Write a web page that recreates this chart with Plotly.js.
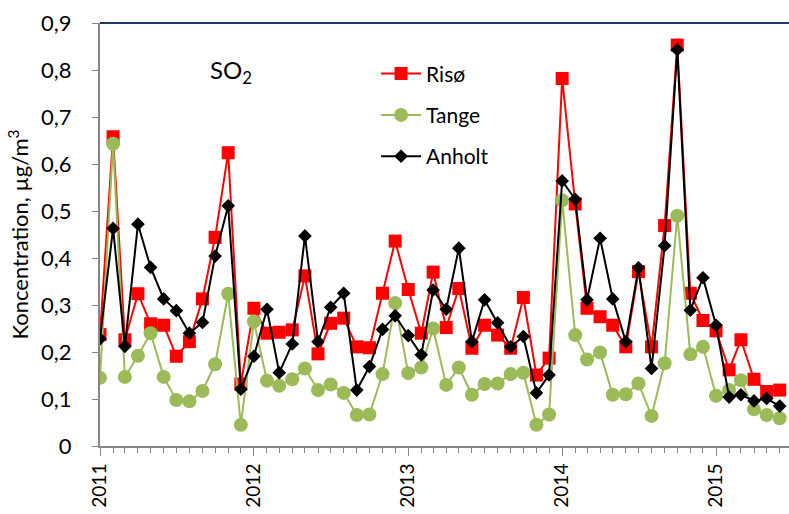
<!DOCTYPE html>
<html>
<head>
<meta charset="utf-8">
<script src="https://cdn.plot.ly/plotly-3.0.1.min.js"></script>
<style>html,body{margin:0;padding:0;background:#fff}#chart{width:789px;height:514px}</style>
</head>
<body>
<div id="chart"></div>
<script>
const months = [
 '2011-01-01','2011-02-01','2011-03-01','2011-04-01','2011-05-01','2011-06-01','2011-07-01','2011-08-01','2011-09-01','2011-10-01','2011-11-01','2011-12-01',
 '2012-01-01','2012-02-01','2012-03-01','2012-04-01','2012-05-01','2012-06-01','2012-07-01','2012-08-01','2012-09-01','2012-10-01','2012-11-01','2012-12-01',
 '2013-01-01','2013-02-01','2013-03-01','2013-04-01','2013-05-01','2013-06-01','2013-07-01','2013-08-01','2013-09-01','2013-10-01','2013-11-01','2013-12-01',
 '2014-01-01','2014-02-01','2014-03-01','2014-04-01','2014-05-01','2014-06-01','2014-07-01','2014-08-01','2014-09-01','2014-10-01','2014-11-01','2014-12-01',
 '2015-01-01','2015-02-01','2015-03-01','2015-04-01','2015-05-01','2015-06-01'];

const riso = [0.237,0.658,0.226,0.324,0.260,0.257,0.191,0.222,0.313,0.444,0.624,0.132,
 0.293,0.240,0.242,0.247,0.362,0.196,0.261,0.272,0.211,0.209,0.325,0.436,
 0.333,0.240,0.370,0.252,0.335,0.208,0.257,0.236,0.208,0.316,0.151,0.187,
 0.782,0.515,0.293,0.275,0.257,0.211,0.371,0.211,0.469,0.853,0.325,0.267,
 0.245,0.162,0.226,0.142,0.116,0.119];

const tange = [0.145,0.643,0.147,0.192,0.240,0.147,0.098,0.095,0.117,0.174,0.324,0.045,
 0.265,0.139,0.128,0.142,0.165,0.119,0.131,0.113,0.066,0.067,0.153,0.304,
 0.155,0.167,0.250,0.130,0.167,0.109,0.132,0.133,0.153,0.156,0.045,0.067,
 0.523,0.236,0.184,0.199,0.109,0.110,0.133,0.064,0.176,0.490,0.195,0.211,
 0.107,0.119,0.140,0.078,0.066,0.059];

const anholt = [0.228,0.463,0.212,0.472,0.380,0.313,0.288,0.240,0.263,0.404,0.511,0.121,
 0.191,0.291,0.156,0.217,0.447,0.222,0.295,0.325,0.119,0.169,0.248,0.277,
 0.235,0.194,0.332,0.291,0.421,0.222,0.311,0.262,0.211,0.233,0.113,0.151,
 0.564,0.525,0.311,0.442,0.313,0.222,0.379,0.165,0.426,0.843,0.289,0.358,
 0.257,0.104,0.109,0.096,0.101,0.085];

const yTickVals = [0,0.1,0.2,0.3,0.4,0.5,0.6,0.7,0.8,0.9];
const yTickText = ['0','0,1','0,2','0,3','0,4','0,5','0,6','0,7','0,8','0,9'];
const xTickVals = ['2011-01-01','2012-01-01','2013-01-01','2014-01-01','2015-01-01'];
const xTickText = ['2011','2012','2013','2014','2015'];

const FONT = 'Lato, "Open Sans", sans-serif';

const traces = [
 {x: months, y: riso, name: 'Risø', type: 'scatter', mode: 'lines+markers', legendgroup: 'a',
  line: {color: '#FF0000', width: 2}, marker: {symbol: 'square', size: 13, color: '#FF0000'}},
 {x: months, y: tange, name: 'Tange', type: 'scatter', mode: 'lines+markers', legendgroup: 'b',
  line: {color: '#9BBB59', width: 2}, marker: {symbol: 'circle', size: 14, color: '#9BBB59'}},
 {x: months, y: anholt, name: 'Anholt', type: 'scatter', mode: 'lines+markers', legendgroup: 'c',
  line: {color: '#000000', width: 2}, marker: {symbol: 'diamond', size: 10.5, color: '#000000'}}
];

const layout = {
 width: 789, height: 514,
 margin: {l: 100, r: 0, t: 23, b: 68},
 paper_bgcolor: '#fff', plot_bgcolor: '#fff',
 font: {family: FONT, size: 17, color: '#000'},
 showlegend: true,
 legend: {x: 0.4007, y: 0.928, xanchor: 'left', yanchor: 'top', traceorder: 'grouped',
  tracegroupgap: 11, font: {family: FONT, size: 21, color: '#000'}, bgcolor: 'rgba(0,0,0,0)',
  itemwidth: 40},
 xaxis: {type: 'date', range: ['2011-01-01', '2015-06-23'],
  tickvals: xTickVals, ticktext: xTickText,
  tickangle: -90, ticks: 'outside', ticklen: 8, tickwidth: 1, tickcolor: '#868686',
  showline: true, linecolor: '#868686', linewidth: 2, showgrid: false, zeroline: false,
  tickfont: {family: FONT, size: 19},
  minor: {dtick: 'M1', tick0: '2011-01-01', ticks: 'outside', ticklen: 5, tickcolor: '#868686', showgrid: false}},
 yaxis: {range: [0, 0.9], tickvals: yTickVals, ticktext: yTickText,
  ticks: 'outside', ticklen: 6, tickwidth: 1, tickcolor: '#868686', ticklabelstandoff: 16,
  showline: true, linecolor: '#868686', linewidth: 2, showgrid: false, zeroline: false,
  tickfont: {family: FONT, size: 22},
  title: {text: 'Koncentration, µg/m<sup>3</sup>', font: {family: FONT, size: 22}, standoff: 6}},
 shapes: [{type: 'line', xref: 'paper', yref: 'paper', x0: 0, x1: 1, y0: 1, y1: 1,
  line: {color: '#1F3864', width: 2}}],
 annotations: [{xref: 'paper', yref: 'paper', x: 0.19, y: 0.885, xanchor: 'center', yanchor: 'middle',
  text: 'SO<sub>2</sub>', showarrow: false, font: {family: FONT, size: 24, color: '#000'}}]
};

Plotly.newPlot('chart', traces, layout, {displayModeBar: false, staticPlot: true});
</script>
</body>
</html>
